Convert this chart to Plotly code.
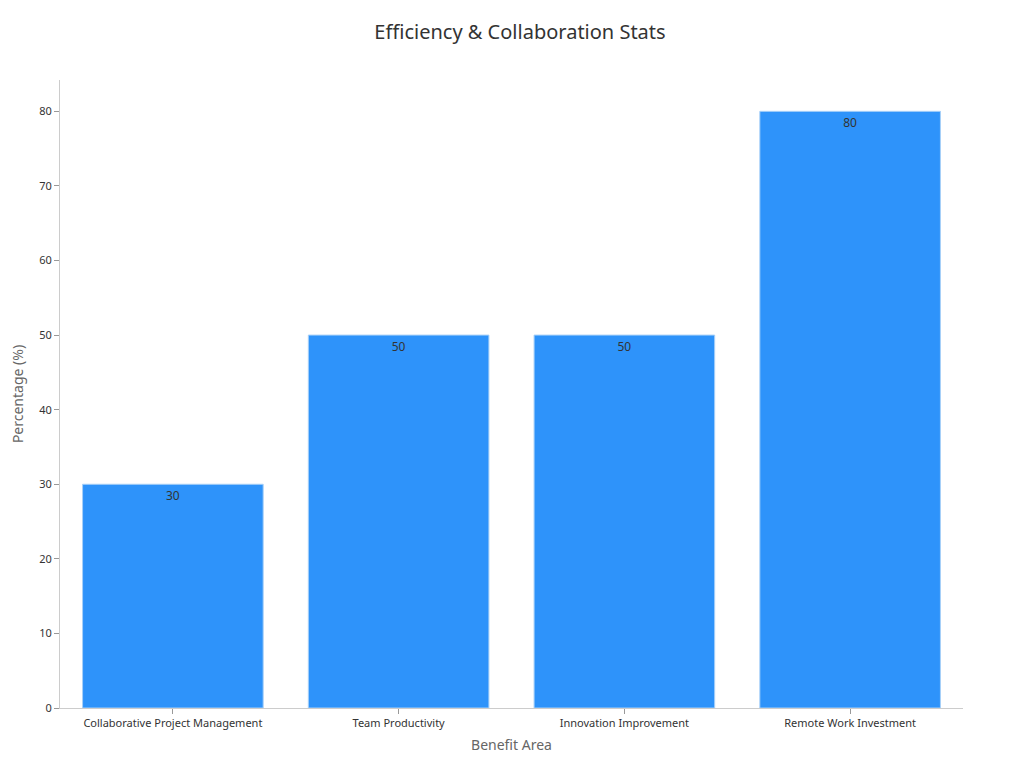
import plotly.graph_objects as go

categories = ["Collaborative Project Management", "Team Productivity", "Innovation Improvement", "Remote Work Investment"]
values = [30, 50, 50, 80]

fig = go.Figure(go.Bar(
    x=categories, y=values, text=values, textposition="inside", insidetextanchor="end",
    textfont=dict(color="#333333", size=12),
    marker=dict(color="#2E93FA", line=dict(color="#A8D0F8", width=1)),
    width=0.8,
))
fig.update_layout(
    width=1024, height=768, template="none",
    font=dict(family="Noto Sans", color="#333333"),
    title=dict(text="Efficiency & Collaboration Stats", x=0.5, y=0.969, yanchor="middle", font=dict(size=20)),
    margin=dict(l=52, r=69, t=72, b=68),
    plot_bgcolor="white", paper_bgcolor="white", showlegend=False,
    xaxis=dict(title=dict(text="Benefit Area", font=dict(size=14, color="#666666"), standoff=10),
               showline=True, linecolor="#cccccc", ticks="outside", tickcolor="#999999",
               tickfont=dict(size=11), showgrid=False),
    yaxis=dict(title=dict(text="Percentage (%)", font=dict(size=14, color="#666666")),
               range=[0, 84.2], dtick=10, showline=True, linecolor="#cccccc", ticks="outside",
               tickcolor="#999999", tickfont=dict(size=11), showgrid=False, zeroline=False),
)
fig.write_html("out.html")
